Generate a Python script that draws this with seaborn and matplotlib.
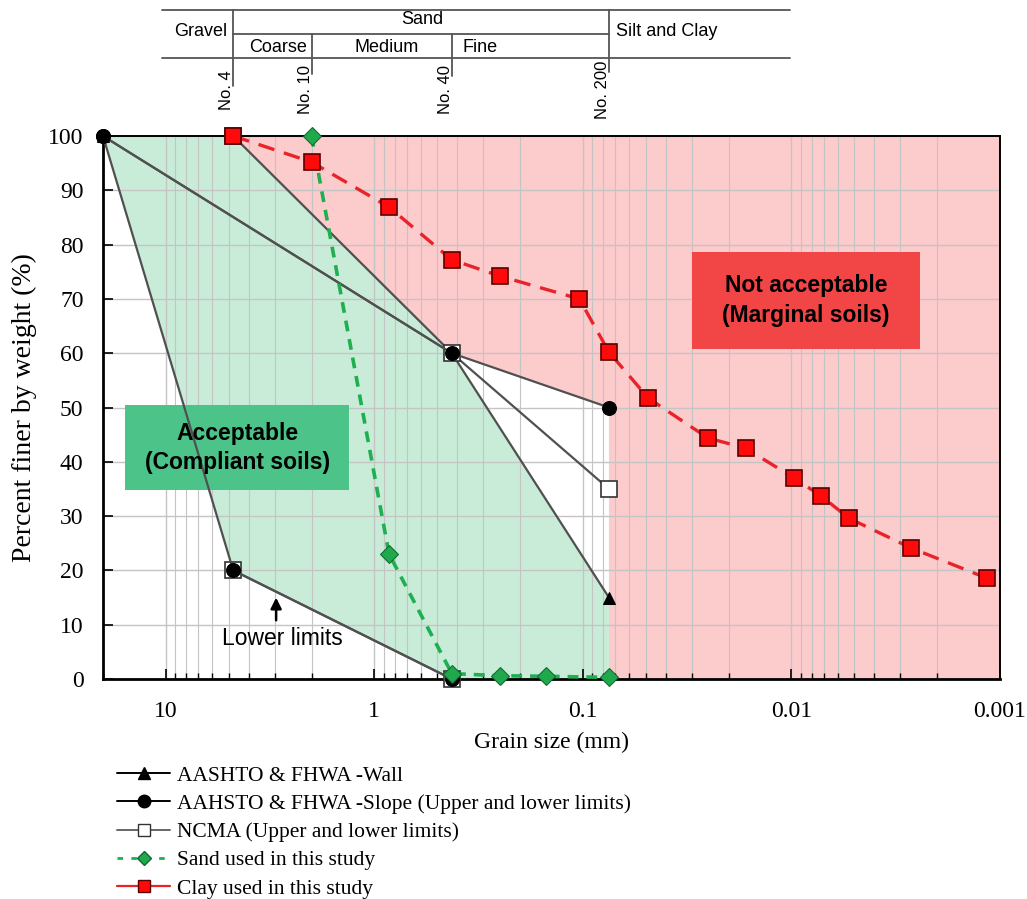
import numpy as np
import pandas as pd
import matplotlib
matplotlib.use("Agg")
import matplotlib.pyplot as plt
import seaborn as sns
from matplotlib.lines import Line2D
from matplotlib.patches import Rectangle
import matplotlib.transforms as mtransforms

# ---------------- data ----------------
sieve_names = ["No. 4", "No. 10", "No. 40", "No. 200"]
sieve_sizes = [4.75, 2.0, 0.425, 0.075]

wall_size = [20, 0.425, 0.075]
wall_pct = [100, 60, 15]

slope_upper_size = [20, 0.425, 0.075]
slope_upper_pct = [100, 60, 50]
slope_lower_size = [20, 4.75, 0.425]
slope_lower_pct = [100, 20, 0]

ncma_upper_size = [4.75, 0.425, 0.075]
ncma_upper_pct = [100, 60, 35]
ncma_lower_size = [4.75, 0.425]
ncma_lower_pct = [20, 0]

sand_size = [2.0, 0.85, 0.425, 0.25, 0.15, 0.075]
sand_pct = [100, 23, 1.0, 0.6, 0.5, 0.3]

clay_size = [4.75, 2.0, 0.85, 0.425, 0.25, 0.104, 0.075, 0.0485, 0.0252,
             0.0166, 0.0097, 0.0072, 0.0053, 0.00266, 0.00116]
clay_pct = [100, 95.2, 86.9, 77.2, 74.2, 70.0, 60.2, 51.7, 44.4,
            42.5, 37.0, 33.7, 29.6, 24.1, 18.6]

legend_labels = ["AASHTO & FHWA -Wall",
                 "AAHSTO & FHWA -Slope (Upper and lower limits)",
                 "NCMA (Upper and lower limits)",
                 "Sand used in this study",
                 "Clay used in this study"]

xlim = (20, 0.001)

# ---------------- style ----------------
sns.set_theme(style="white")
plt.rcParams["font.family"] = ["Liberation Serif", "DejaVu Serif"]
for k in ["text.color", "axes.labelcolor", "xtick.color", "ytick.color"]:
    plt.rcParams[k] = "black"
SANS = ["Liberation Sans", "DejaVu Sans"]

fig = plt.figure(figsize=(10.27, 8.99), dpi=100)
ax = fig.add_axes([103 / 1027, 1 - 679 / 899, 897 / 1027, 543 / 899])

ax.set_xscale("log")
ax.set_xlim(*xlim)
ax.set_ylim(0, 100)

# ---------------- shaded zones ----------------
green_x = [xlim[0]] + ncma_upper_size[:2] + [wall_size[-1], wall_size[-1]] + slope_lower_size[::-1][:2]
green_y = [100] + ncma_upper_pct[:2] + [wall_pct[-1], 0] + slope_lower_pct[::-1][:2]
ax.fill(green_x, green_y, color="#c9ecd8", lw=0, zorder=0.6)

red_x = ncma_upper_size[:2] + [slope_upper_size[-1], slope_upper_size[-1], xlim[1], xlim[1]]
red_y = ncma_upper_pct[:2] + [slope_upper_pct[-1], 0, 0, 100]
ax.fill(red_x, red_y, color="#fccbcc", lw=0, zorder=0.6)

# ---------------- grid / axes ----------------
ax.set_axisbelow("line")
ax.grid(True, which="major", axis="both", color="#c4c4c4", lw=1.0)
ax.grid(True, which="minor", axis="x", color="#c4c4c4", lw=0.8)
ax.set_yticks(np.arange(0, 101, 10))
ax.set_xticks([10, 1, 0.1, 0.01, 0.001])
ax.set_xticklabels(["10", "1", "0.1", "0.01", "0.001"])
ax.tick_params(axis="both", which="major", direction="in", length=7, width=1.2,
               labelsize=17, left=True, bottom=True, top=False, right=False, colors="black")
ax.tick_params(axis="x", which="minor", direction="in", length=4, width=1.0, bottom=True, top=False)
ax.tick_params(axis="x", pad=16)
ax.tick_params(axis="y", pad=14)
for s in ["left", "bottom"]:
    ax.spines[s].set_linewidth(2.0)
for s in ["top", "right"]:
    ax.spines[s].set_linewidth(1.4)
for s in ax.spines.values():
    s.set_color("black")

ax.set_xlabel("Grain size (mm)", fontsize=17, labelpad=7)
ax.set_ylabel("Percent finer by weight (%)", fontsize=20, labelpad=8)

# ---------------- lines ----------------
gray = "#505050"
common = dict(ax=ax, sort=False, estimator=None, legend=False, clip_on=False)
sns.lineplot(x=wall_size, y=wall_pct, color=gray, lw=1.6, marker="^", markersize=9,
             markerfacecolor="black", markeredgecolor="black", zorder=3, **common)
sns.lineplot(x=ncma_upper_size, y=ncma_upper_pct, color=gray, lw=1.6, marker="s", markersize=11,
             markerfacecolor="white", markeredgecolor="#333333", markeredgewidth=1.2, zorder=3.1, **common)
sns.lineplot(x=ncma_lower_size, y=ncma_lower_pct, color=gray, lw=1.6, marker="s", markersize=11,
             markerfacecolor="white", markeredgecolor="#333333", markeredgewidth=1.2, zorder=3.1, **common)
sns.lineplot(x=slope_upper_size, y=slope_upper_pct, color=gray, lw=1.6, marker="o", markersize=10,
             markerfacecolor="black", markeredgecolor="black", zorder=3.2, **common)
sns.lineplot(x=slope_lower_size, y=slope_lower_pct, color=gray, lw=1.6, marker="o", markersize=10,
             markerfacecolor="black", markeredgecolor="black", zorder=3.2, **common)
sns.lineplot(x=sand_size, y=sand_pct, color="#1fae50", lw=2.6, linestyle=(0, (3, 2.2)),
             marker="D", markersize=9, markerfacecolor="#1fa84c", markeredgecolor="#0e6a2f",
             zorder=4, **common)
sns.lineplot(x=clay_size, y=clay_pct, color="#e8242a", lw=2.4, linestyle=(0, (5, 3)),
             marker="s", markersize=11, markerfacecolor="#ff0a0a", markeredgecolor="#5a0000",
             markeredgewidth=1.2, zorder=5, **common)

# ---------------- zone labels ----------------
ax.add_patch(Rectangle((0.0245, 0.348), 0.2495, 0.1566, transform=ax.transAxes,
                       facecolor="#4cc388", edgecolor="none", zorder=2.5))
ax.text(0.1495, 0.426, "Acceptable\n(Compliant soils)", transform=ax.transAxes,
        ha="center", va="center", fontsize=16.5, fontweight="bold", family=SANS,
        color="black", linespacing=1.35, zorder=6)
ax.add_patch(Rectangle((0.657, 0.608), 0.254, 0.178, transform=ax.transAxes,
                       facecolor="#f24646", edgecolor="none", zorder=2.5))
ax.text(0.784, 0.697, "Not acceptable\n(Marginal soils)", transform=ax.transAxes,
        ha="center", va="center", fontsize=16.5, fontweight="bold", family=SANS,
        color="black", linespacing=1.35, zorder=6)

# Lower limits annotation
ax.annotate("", xy=(0.193, 0.155), xytext=(0.193, 0.103), xycoords="axes fraction",
            textcoords="axes fraction",
            arrowprops=dict(arrowstyle="-|>", color="black", lw=1.8, mutation_scale=16), zorder=6)
ax.text(0.2, 0.074, "Lower limits", transform=ax.transAxes, ha="center", va="center",
        fontsize=16.5, family=SANS, color="black", zorder=6)

# ---------------- top classification table ----------------
blend = mtransforms.blended_transform_factory(ax.transData, fig.transFigure)
ftr = fig.transFigure
fy = lambda py: 1 - py / 899
fx = lambda px: px / 1027
lc = "#555555"
for yy, x0, x1 in [(10, 162, 790), (58, 162, 790)]:
    fig.add_artist(Line2D([fx(x0), fx(x1)], [fy(yy), fy(yy)], transform=ftr, color=lc, lw=1.3))
fig.add_artist(Line2D([sieve_sizes[0], sieve_sizes[-1]], [fy(34), fy(34)], transform=blend,
                      color=lc, lw=1.3))
vtops = [10, 34, 34, 10]
vbots = [86, 74, 76, 72]
for s, t, b in zip(sieve_sizes, vtops, vbots):
    fig.add_artist(Line2D([s, s], [fy(t), fy(b)], transform=blend, color=lc, lw=1.3))
for name, s in zip(sieve_names, sieve_sizes):
    ax.annotate(name, xy=(s, fy(90)), xycoords=blend, xytext=(-4.5, 0), textcoords="offset points",
                rotation=90, ha="center", va="center", fontsize=12, family=SANS, color="black",
                annotation_clip=False)

def tx(x, y, s, ha="center"):
    fig.text(x, fy(y), s, ha=ha, va="center", fontsize=13, family=SANS, color="black")

tx(fx(201), 32, "Gravel")
tx(fx(422), 20, "Sand")
tx(fx(278), 47, "Coarse")
tx(fx(387), 47, "Medium")
tx(fx(462), 47, "Fine", ha="left")
tx(fx(667), 32, "Silt and Clay")

# ---------------- legend ----------------
handles = [
    Line2D([], [], color="black", lw=1.4, marker="^", markersize=9, markerfacecolor="black"),
    Line2D([], [], color="black", lw=1.4, marker="o", markersize=9, markerfacecolor="black"),
    Line2D([], [], color="#666666", lw=1.4, marker="s", markersize=9, markerfacecolor="white",
           markeredgecolor="#333333"),
    Line2D([], [], color="#1fae50", lw=2.0, linestyle=(0, (2, 3)), marker="D", markersize=7,
           markerfacecolor="#1fa84c", markeredgecolor="#0e6a2f"),
    Line2D([], [], color="#e8242a", lw=1.6, marker="s", markersize=9, markerfacecolor="#ff0a0a",
           markeredgecolor="#5a0000"),
]
fig.legend(handles, legend_labels, loc="upper left", bbox_to_anchor=(fx(108), fy(757)),
           frameon=False, fontsize=15.5, handlelength=2.5, handletextpad=0.3, labelspacing=0.38,
           borderaxespad=0)

fig.savefig("out.png", dpi=100)
